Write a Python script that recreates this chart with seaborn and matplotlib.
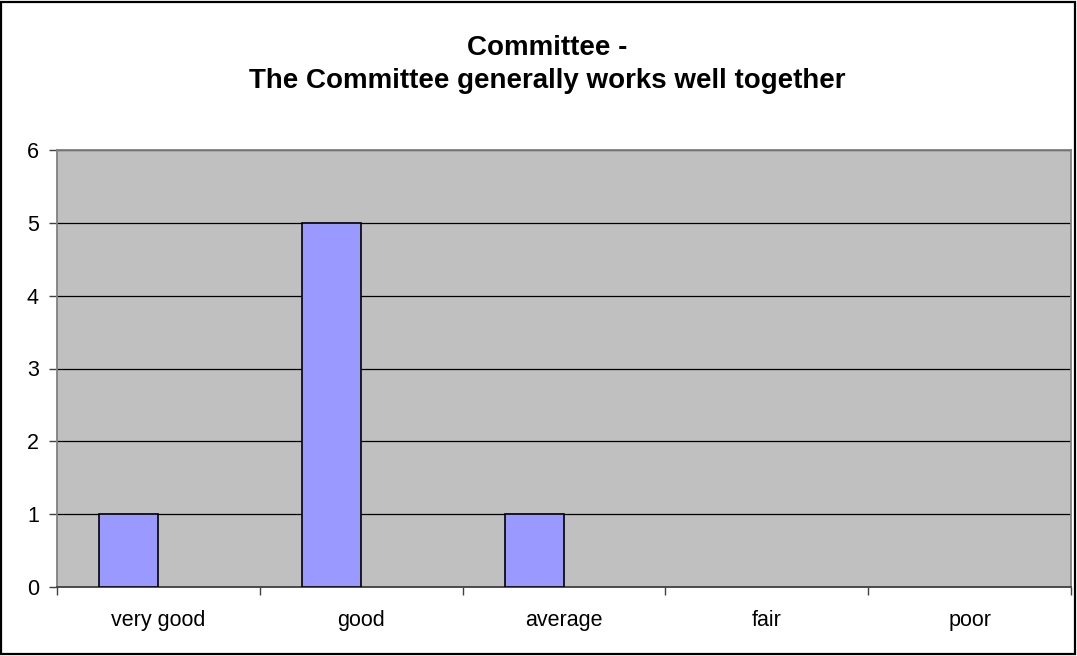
import matplotlib
matplotlib.use("Agg")
import matplotlib.pyplot as plt
import seaborn as sns
import pandas as pd
from matplotlib.patches import Rectangle

# Survey answers per rating; a second, empty series keeps each bar on the left of its slot
categories = ["very good", "good", "average", "fair", "poor"]
responses = [1, 5, 1, 0, 0]
companion = [0, 0, 0, 0, 0]
y_ticks = [0, 1, 2, 3, 4, 5, 6]
title_lines = ["Committee -", "The Committee generally works well together"]

df = pd.DataFrame({
    "rating": categories * 2,
    "count": responses + companion,
    "series": ["responses"] * len(categories) + ["companion"] * len(categories),
})

sns.set_theme(style="white")
plt.rcParams["font.family"] = ["Liberation Sans", "DejaVu Sans"]

W, H = 1077, 656
fig = plt.figure(figsize=(W / 100, H / 100), dpi=100)
fig.patch.set_facecolor("white")

left, right, top, bottom = 57, 1071, 150, 587
ax = fig.add_axes([left / W, 1 - bottom / H, (right - left) / W, (bottom - top) / H])
ax.set_facecolor("#C0C0C0")

sns.barplot(
    data=df, x="rating", y="count", hue="series",
    order=categories, hue_order=["responses", "companion"],
    palette=["#9999FF", "#9999FF"], saturation=1,
    width=0.582, dodge=True, edgecolor="black", linewidth=1.2,
    legend=False, ax=ax, zorder=3,
)
for p in ax.patches:
    if p.get_height() == 0:
        p.set_visible(False)

ax.set_xlim(-0.5, len(categories) - 0.5)
ax.set_ylim(0, 6)
ax.set_yticks(y_ticks)
ax.set_axisbelow(True)
ax.yaxis.grid(True, color="black", linewidth=0.9)
ax.xaxis.grid(False)

ax.set_xlabel("")
ax.set_ylabel("")

# category labels centred, tick marks on the slot boundaries
ax.set_xticks(range(len(categories)))
ax.set_xticklabels(categories)
ax.set_xticks([i - 0.5 for i in range(len(categories) + 1)], minor=True)
ax.tick_params(axis="x", which="major", length=0, pad=16.5, labelsize=15.5, labelcolor="black")
ax.tick_params(axis="x", which="minor", bottom=True, length=5.5, width=1, color="#404040")
ax.tick_params(axis="y", which="major", left=True, length=6, width=1, color="#404040",
               pad=7, labelsize=15.5, labelcolor="black")

for side in ("top", "right", "left"):
    ax.spines[side].set_color("#808080")
    ax.spines[side].set_linewidth(1.3)
ax.spines["bottom"].set_color("#404040")
ax.spines["bottom"].set_linewidth(1.3)

fig.text(0.508, 1 - 55 / H, title_lines[0], ha="center", va="baseline",
         fontsize=20, fontweight="bold", color="black")
fig.text(0.508, 1 - 88 / H, title_lines[1], ha="center", va="baseline",
         fontsize=20, fontweight="bold", color="black")

# chart frame
fig.add_artist(Rectangle((1 / W, 2 / H), (W - 3) / W, (H - 4) / H, transform=fig.transFigure,
                         fill=False, edgecolor="black", linewidth=1.6))

fig.savefig("out.png", dpi=100)
